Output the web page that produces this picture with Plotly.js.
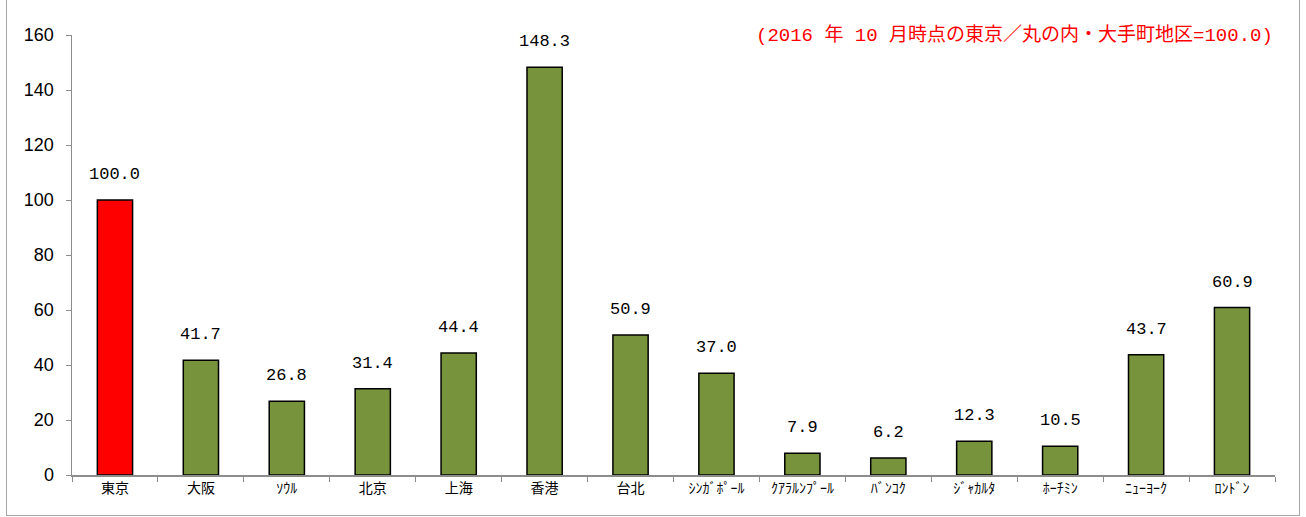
<!DOCTYPE html>
<html><head><meta charset="utf-8">
<script src="https://cdn.plot.ly/plotly-3.0.1.min.js"></script>
<style>
html,body{margin:0;padding:0;background:#fff;}
#frame{position:absolute;left:6px;top:-2px;width:1292px;height:516px;border:1px solid #a6a6a6;pointer-events:none;}
#chart{width:1306px;height:517px;}
</style></head><body>
<div id="chart"></div>
<div id="frame"></div>
<script>
const cities = ["東京","大阪","ｿｳﾙ","北京","上海","香港","台北","ｼﾝｶﾞﾎﾟｰﾙ","ｸｱﾗﾙﾝﾌﾟｰﾙ","ﾊﾞﾝｺｸ","ｼﾞｬｶﾙﾀ","ﾎｰﾁﾐﾝ","ﾆｭｰﾖｰｸ","ﾛﾝﾄﾞﾝ"];
const values = [100.0,41.7,26.8,31.4,44.4,148.3,50.9,37.0,7.9,6.2,12.3,10.5,43.7,60.9];
const note = "(2016 年 10 月時点の東京／丸の内・大手町地区=100.0)";

const colors = cities.map((c,i)=> i===0 ? "#ff0000" : "#77933c");
const trace = {
  type:"bar", x:cities, y:values,
  marker:{color:colors, line:{color:"#000", width:1.5}},
  hoverinfo:"skip"
};
const labelAnn = cities.map((c,i)=>({
  x:c, y:values[i], xref:"x", yref:"y", yanchor:"bottom", yshift:14,
  text:values[i].toFixed(1), showarrow:false,
  font:{family:"Liberation Mono, DejaVu Sans Mono, monospace", size:17, color:"#000"}
}));
const layout = {
  width:1306, height:517,
  margin:{l:72, r:31, t:35, b:42},
  paper_bgcolor:"#fff", plot_bgcolor:"#fff",
  bargap:0.59,
  showlegend:false,
  xaxis:{type:"category", showline:true, linecolor:"#8c8c8c", linewidth:1.5,
    ticks:"outside", tickson:"boundaries", ticklen:5, tickcolor:"#8c8c8c",
    tickfont:{family:"Noto Sans CJK JP", size:14, color:"#000"}, showgrid:false, fixedrange:true},
  yaxis:{range:[0,160], dtick:20, showline:true, linecolor:"#8c8c8c", linewidth:1.5,
    ticks:"outside", ticklen:5, tickcolor:"#8c8c8c", showgrid:false, zeroline:false,
    ticklabelstandoff:8,
    tickfont:{family:"Liberation Sans Narrow, Liberation Sans", size:18, color:"#000"}},
  annotations:labelAnn.concat([{xref:"paper", yref:"paper", x:1.0, y:1.0, xanchor:"right", yanchor:"middle",
    text:note, showarrow:false, font:{family:"Liberation Mono, Noto Sans CJK JP", size:19, color:"#ff0000"}}])
};
Plotly.newPlot("chart",[trace],layout,{staticPlot:true});
</script>
</body></html>
